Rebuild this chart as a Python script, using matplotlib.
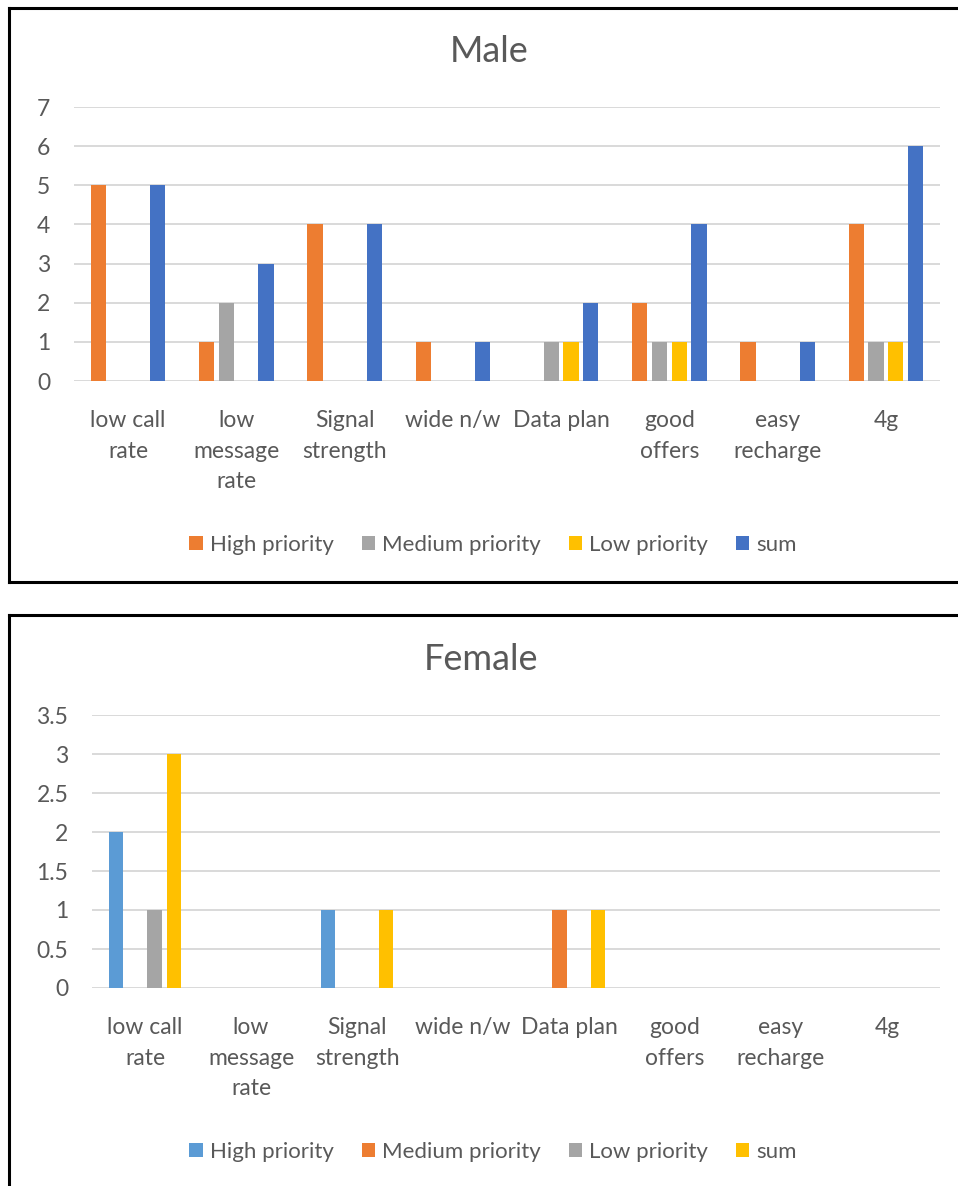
import matplotlib.pyplot as plt
from matplotlib.patches import Patch
from matplotlib.lines import Line2D

# survey categories (x axis)
categories = ["low call\nrate", "low\nmessage\nrate", "Signal\nstrength", "wide n/w",
              "Data plan", "good\noffers", "easy\nrecharge", "4g"]
series_names = ["High priority", "Medium priority", "Low priority", "sum"]

# male responses
male_high = [5, 1, 4, 1, 0, 2, 1, 4]
male_medium = [0, 2, 0, 0, 1, 1, 0, 1]
male_low = [0, 0, 0, 0, 1, 1, 0, 1]
male_sum = [5, 3, 4, 1, 2, 4, 1, 6]
male_yticks = [0, 1, 2, 3, 4, 5, 6, 7]
male_yticklabels = ["0", "1", "2", "3", "4", "5", "6", "7"]

# female responses
female_high = [2, 0, 1, 0, 0, 0, 0, 0]
female_medium = [0, 0, 0, 0, 1, 0, 0, 0]
female_low = [1, 0, 0, 0, 0, 0, 0, 0]
female_sum = [3, 0, 1, 0, 1, 0, 0, 0]
female_yticks = [0, 0.5, 1, 1.5, 2, 2.5, 3, 3.5]
female_yticklabels = ["0", "0.5", "1", "1.5", "2", "2.5", "3", "3.5"]

male_colors = ["#ED7D31", "#A5A5A5", "#FFC000", "#4472C4"]
female_colors = ["#5B9BD5", "#ED7D31", "#A5A5A5", "#FFC000"]

TEXT = "#595959"
GRID = "#D9D9D9"
FONT = "Lato"
W, H = 958, 1186

plt.rcParams['font.family'] = [FONT, 'DejaVu Sans']

fig = plt.figure(figsize=(W / 100, H / 100), dpi=100)


def px_axes(x0, y_top, x1, y_bot):
    return fig.add_axes([x0 / W, 1 - y_bot / H, (x1 - x0) / W, (y_bot - y_top) / H])


def draw_chart(ax, series, colors, yticks, yticklabels, title, title_x, title_y, legend_y):
    slot = 0.182
    width = 0.14
    for j, (vals, c) in enumerate(zip(series, colors)):
        xs = [i + (j - 1.5) * slot for i in range(len(categories))]
        ax.bar(xs, vals, width=width, color=c, zorder=3)
    ax.set_xlim(-0.5, len(categories) - 0.5)
    ax.set_ylim(yticks[0], yticks[-1])
    ax.set_yticks(yticks)
    ax.set_yticklabels(yticklabels)
    ax.set_xticks(range(len(categories)))
    ax.set_xticklabels(categories, linespacing=1.55, va='top')
    ax.tick_params(axis='both', length=0, labelsize=16.5, labelcolor=TEXT)
    ax.tick_params(axis='y', pad=17)
    ax.tick_params(axis='x', pad=21)
    ax.grid(axis='y', color=GRID, lw=1.4, zorder=0)
    for s in ax.spines.values():
        s.set_visible(False)

    fig.text(title_x / W, 1 - title_y / H, title, ha='center', va='center',
             fontsize=26, color=TEXT)

    handles = [Patch(facecolor=c, edgecolor='none') for c in colors]
    fig.legend(handles, series_names, loc='center', ncol=4,
               bbox_to_anchor=(493 / W, 1 - legend_y / H),
               frameon=False, fontsize=16, labelcolor=TEXT,
               handlelength=0.62, handleheight=0.62, handletextpad=0.3,
               columnspacing=1.25)


ax_m = px_axes(74, 107, 940, 381)
draw_chart(ax_m, [male_high, male_medium, male_low, male_sum], male_colors,
           male_yticks, male_yticklabels, "Male", 489, 52, 545)

ax_f = px_axes(92, 715, 940, 988)
draw_chart(ax_f, [female_high, female_medium, female_low, female_sum], female_colors,
           female_yticks, female_yticklabels, "Female", 481, 659, 1152)

# black frames around each chart
frame = dict(color='black', lw=2.2, transform=fig.transFigure, solid_capstyle='projecting')
fig.add_artist(Line2D([9 / W, 9 / W], [1 - 8 / H, 1 - 582 / H], **frame))
fig.add_artist(Line2D([9 / W, 1.01], [1 - 8 / H, 1 - 8 / H], **frame))
fig.add_artist(Line2D([9 / W, 1.01], [1 - 582 / H, 1 - 582 / H], **frame))
fig.add_artist(Line2D([9 / W, 9 / W], [1 - 615 / H, -0.01], **frame))
fig.add_artist(Line2D([9 / W, 1.01], [1 - 615 / H, 1 - 615 / H], **frame))

fig.savefig("out.png", dpi=100)
